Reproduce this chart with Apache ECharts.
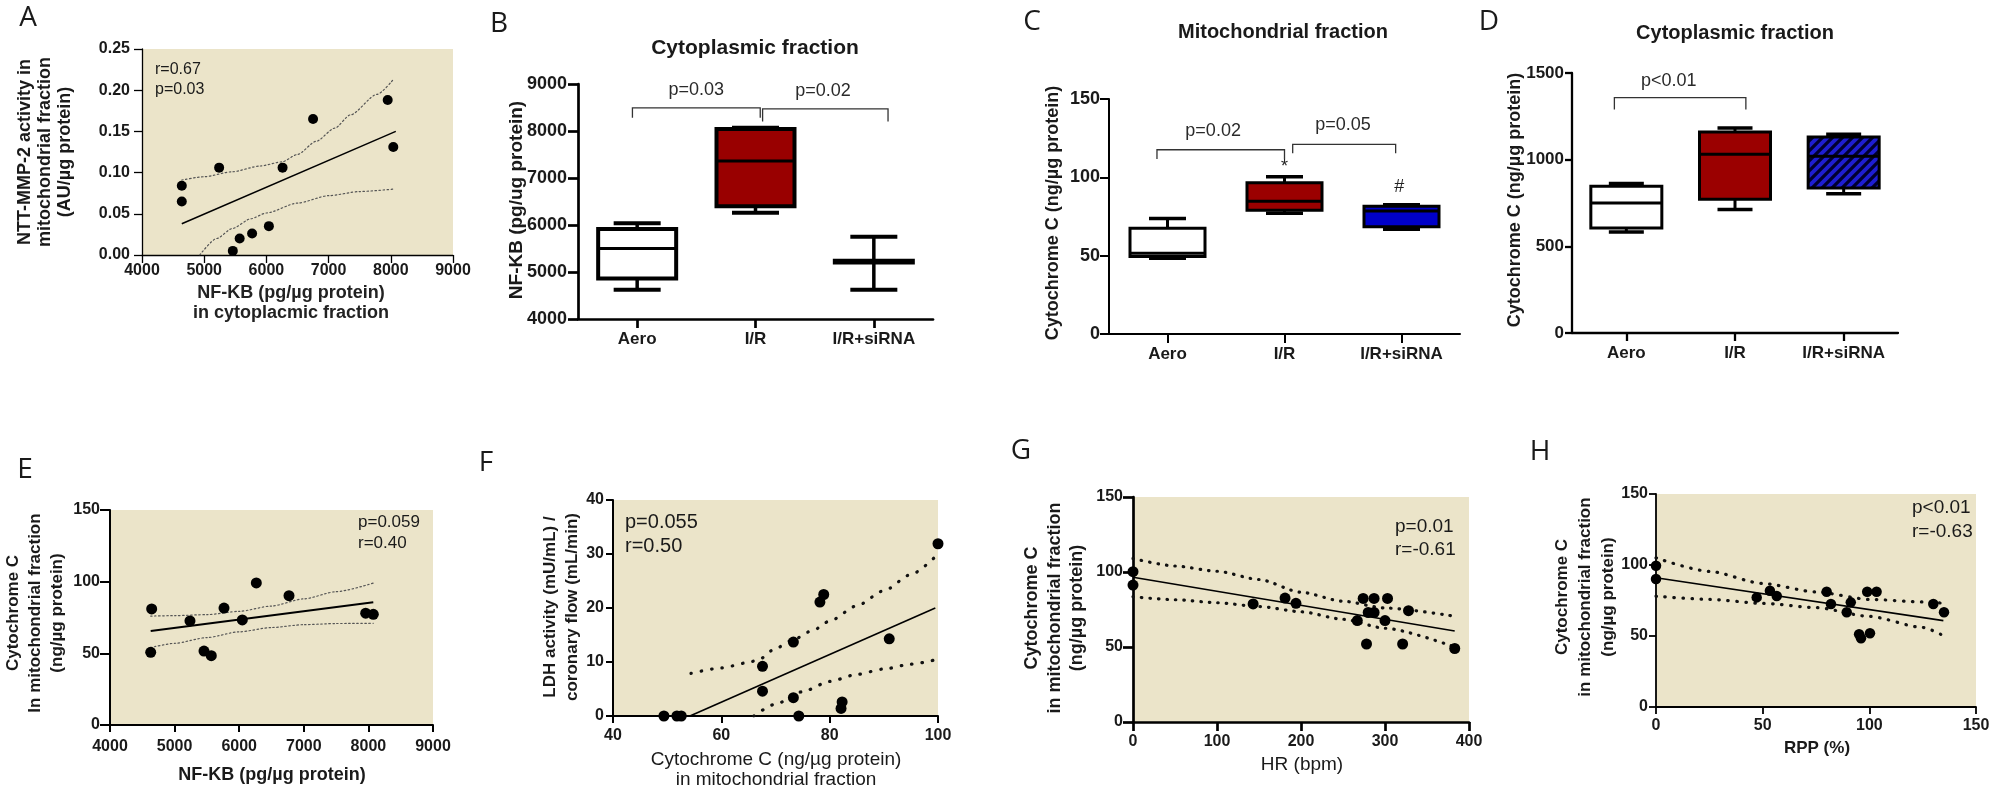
<!DOCTYPE html>
<html><head><meta charset="utf-8">
<script src="https://cdn.jsdelivr.net/npm/echarts@6/dist/echarts.min.js"></script>
<style>html,body{margin:0;padding:0;background:#fff}#c{width:2007px;height:791px}</style>
</head><body><div id="c"></div>
<script>
// ---------- DATA ----------
// Panel A
const aX = [4640, 4640, 5240, 5460, 5570, 5770, 6040, 6260, 6750, 7950, 8040];
const aY = [0.084, 0.065, 0.106, 0.005, 0.020, 0.026, 0.035, 0.106, 0.165, 0.188, 0.131];
const aFitX = [4640, 8080];
const aFitY = [0.038, 0.150];
const aUpX = [4640, 5000, 5450, 5900, 6250, 6500, 6800, 7100, 7350, 7780, 8040];
const aUpY = [0.091, 0.095, 0.101, 0.108, 0.113, 0.122, 0.138, 0.154, 0.170, 0.195, 0.213];
const aLoX = [4930, 5200, 5450, 5750, 6000, 6500, 7000, 7500, 8040];
const aLoY = [0, 0.020, 0.032, 0.044, 0.051, 0.063, 0.072, 0.077, 0.080];
// Panel B
const boxCats = ['Aero', 'I/R', 'I/R+siRNA'];
const bAero = [4620, 4860, 5500, 5915, 6035];
const bIR = [6260, 6400, 7360, 8040, 8070];
const bSi = [4620, 5200, 5220, 5240, 5750];
const bBrackets = [[-0.04, 1.04, 8490, 8280, 0.5], [1.06, 2.12, 8470, 8200, 1.57]];
const bBracketText = ['p=0.03', 'p=0.02'];
// Panel C
const cAero = [48.3, 49.5, 51.5, 67.5, 73.8];
const cIR = [77, 79, 84.7, 96.6, 100.4];
const cSi = [66.8, 68.5, 78.5, 81.5, 82.5];
const cBrackets = [[-0.09, 1.0, 117.6, 111.7, 0.39], [1.07, 1.95, 121.1, 115.3, 1.5]];
const cBracketText = ['p=0.02', 'p=0.05'];
const cMarks = [[1.0, 106.5], [1.98, 93.5]];
const cMarkText = ['*', '#'];
// Panel D
const dAero = [583, 606, 750, 846, 862];
const dIR = [712, 771, 1031, 1160, 1183];
const dSi = [804, 837, 1020, 1131, 1147];
const dBrackets = [[-0.11, 1.10, 1358, 1289, 0.39]];
const dBracketText = ['p<0.01'];
// Panel E
const eX = [4630, 4645, 5238, 5455, 5568, 5765, 6048, 6265, 6771, 7958, 8076];
const eY = [50.7, 81, 72.6, 51.6, 48.4, 81.6, 73.3, 99.1, 90.2, 78, 77.2];
const eFitX = [4630, 8076];
const eFitY = [65.6, 85.6];
const eUpX = [4630, 5000, 5500, 6000, 6500, 7000, 7500, 8076];
const eUpY = [76, 76.3, 77, 79.3, 83, 88, 93, 99];
const eLoX = [4630, 5000, 5500, 6000, 6500, 7000, 7500, 8076];
const eLoY = [54, 57, 61, 65, 68, 70, 70.8, 71];
// Panel F
const fX = [49.4, 51.8, 52.6, 67.6, 67.6, 73.3, 73.3, 74.3, 78.2, 78.9, 82.1, 82.3, 91.0, 100];
const fY = [0, 0, 0, 9.2, 4.6, 13.7, 3.4, 0, 21.1, 22.5, 1.4, 2.6, 14.3, 31.9];
const fFitX = [54.2, 99.5];
const fFitY = [0, 20];
const fUpX = [54.4, 60, 65, 67, 70, 73, 77, 80, 85, 90, 95, 99.5];
const fUpY = [7.9, 8.9, 9.9, 10.5, 12.5, 14, 15.9, 17.6, 20.4, 23.2, 26.2, 29.5];
const fLoX = [66, 70, 75, 80, 85, 90, 95, 99.5];
const fLoY = [0, 2.2, 4.5, 6.4, 7.7, 8.7, 9.6, 10.4];
// Panel G
const gX = [0, 0, 143, 181, 194, 267, 274, 287, 303, 280, 287, 300, 328, 278, 321, 383];
const gY = [100.2, 91.3, 78.7, 82.6, 79.1, 67.6, 82.4, 82.4, 82.4, 73, 73, 67.6, 74.2, 52, 52, 49];
const gFitX = [0, 383];
const gFitY = [96.5, 60.7];
const gUpX = [0, 50, 100, 150, 200, 250, 300, 383];
const gUpY = [109, 104, 100.5, 95, 86.5, 80.5, 76, 70.5];
const gLoX = [0, 50, 100, 150, 200, 250, 300, 383];
const gLoY = [83.5, 81.5, 79.5, 77, 73.5, 68.5, 62.5, 50];
// Panel H
const hX = [0, 0, 47.2, 53.4, 56.6, 80, 82, 89.4, 91.3, 95.2, 96.1, 100.3, 99, 103.4, 130, 135];
const hY = [99.5, 90.1, 77.2, 81.9, 78.2, 81.2, 72.5, 66.7, 73.7, 51.2, 48.4, 51.9, 81.2, 81.2, 72.5, 66.7];
const hFitX = [0, 134.7];
const hFitY = [91, 60.8];
const hUpX = [0, 25, 50, 75, 100, 125, 135];
const hUpY = [105, 95.5, 87, 81, 75.8, 74, 73];
const hLoX = [0, 25, 50, 75, 100, 125, 135];
const hLoY = [78, 75.8, 73, 70, 63.8, 56, 50];

// ---------- STYLE ----------
const FONT = '"Liberation Sans", Arial, sans-serif';
const BEIGE = '#ebe4c9';
const zip = (xs, ys) => xs.map((x, i) => [x, ys[i]]);

function hatchCanvas() {
  const c = document.createElement('canvas');
  c.width = 10; c.height = 10;
  const g = c.getContext('2d');
  g.fillStyle = '#1e1ed2'; g.fillRect(0, 0, 10, 10);
  g.strokeStyle = '#000030'; g.lineWidth = 3.2;
  g.beginPath();
  g.moveTo(-5, 5); g.lineTo(5, -5);
  g.moveTo(0, 10); g.lineTo(10, 0);
  g.moveTo(5, 15); g.lineTo(15, 5);
  g.stroke();
  return c;
}
const HATCH = { image: hatchCanvas(), repeat: 'repeat' };

function valAxis(gi, min, max, interval, o) {
  return {
    type: 'value', gridIndex: gi, min: min, max: max, interval: interval,
    splitLine: { show: false },
    axisLine: { show: true, onZero: false, lineStyle: { color: '#000', width: o.lw } },
    axisTick: { show: true, inside: false, length: o.tl, lineStyle: { color: '#000', width: o.lw } },
    axisLabel: { show: true, margin: o.m, fontSize: o.fs, fontWeight: 'bold', color: '#1a1a1a', fontFamily: FONT,
      formatter: o.fmt || (v => String(v)) }
  };
}
function boxXAxis(gi, o) {
  return {
    type: 'value', gridIndex: gi, min: -0.5, max: 2.5,
    splitLine: { show: false },
    axisLine: { show: true, onZero: false, lineStyle: { color: '#000', width: o.lw } },
    axisTick: { show: true, customValues: [0, 1, 2], length: o.tl, lineStyle: { color: '#000', width: o.lw } },
    axisLabel: { show: true, customValues: [0, 1, 2], margin: o.m, fontSize: o.fs, fontWeight: 'bold', color: '#1a1a1a',
      fontFamily: FONT, formatter: v => boxCats[Math.round(v)] }
  };
}

function boxSeries(gi, boxes, st) {
  return {
    type: 'custom', xAxisIndex: gi, yAxisIndex: gi, silent: true, z: 3,
    encode: { x: 0, y: [1, 2, 3, 4, 5] },
    data: boxes.map((b, i) => [i].concat(b)),
    renderItem: function (params, api) {
      const x = api.value(0);
      const pMin = api.coord([x, api.value(1)]);
      const pQ1 = api.coord([x, api.value(2)]);
      const pMed = api.coord([x, api.value(3)]);
      const pQ3 = api.coord([x, api.value(4)]);
      const pMax = api.coord([x, api.value(5)]);
      const cx = pMin[0], hw = st.boxW / 2, cw = st.capW / 2;
      const ls = { stroke: '#000', lineWidth: st.wl };
      return {
        type: 'group', children: [
          { type: 'line', shape: { x1: cx, y1: pMax[1], x2: cx, y2: pQ3[1] }, style: ls },
          { type: 'line', shape: { x1: cx, y1: pQ1[1], x2: cx, y2: pMin[1] }, style: ls },
          { type: 'line', shape: { x1: cx - cw, y1: pMax[1], x2: cx + cw, y2: pMax[1] }, style: { stroke: '#000', lineWidth: st.cl } },
          { type: 'line', shape: { x1: cx - cw, y1: pMin[1], x2: cx + cw, y2: pMin[1] }, style: { stroke: '#000', lineWidth: st.cl } },
          { type: 'rect', shape: { x: cx - hw, y: pQ3[1], width: 2 * hw, height: Math.max(pQ1[1] - pQ3[1], 0.5) },
            style: { fill: st.fills[params.dataIndex], stroke: '#000', lineWidth: st.bl } },
          { type: 'line', shape: { x1: cx - hw, y1: pMed[1], x2: cx + hw, y2: pMed[1] }, style: { stroke: '#000', lineWidth: st.ml } }
        ]
      };
    }
  };
}
function bracketSeries(gi, brackets, texts, st) {
  return {
    type: 'custom', xAxisIndex: gi, yAxisIndex: gi, silent: true, z: 4,
    encode: { x: [0, 1, 4], y: [2, 3] },
    data: brackets,
    renderItem: function (params, api) {
      const x1 = api.value(0), x2 = api.value(1), yt = api.value(2), ye = api.value(3), tx = api.value(4);
      const p1 = api.coord([x1, ye]), p2 = api.coord([x1, yt]), p3 = api.coord([x2, yt]), p4 = api.coord([x2, ye]);
      const pt = api.coord([tx, yt]);
      return {
        type: 'group', children: [
          { type: 'polyline', shape: { points: [p1, p2, p3, p4] }, style: { stroke: '#333', lineWidth: 1.3, fill: null } },
          { type: 'text', x: pt[0], y: pt[1] - st.off,
            style: { text: texts[params.dataIndex], fill: '#2a2a2a', font: '18px ' + FONT, align: 'center', verticalAlign: 'middle' } }
        ]
      };
    }
  };
}
function markSeries(gi, marks, texts) {
  return {
    type: 'custom', xAxisIndex: gi, yAxisIndex: gi, silent: true, z: 4,
    encode: { x: 0, y: 1 }, data: marks,
    renderItem: function (params, api) {
      const p = api.coord([api.value(0), api.value(1)]);
      return { type: 'text', x: p[0], y: p[1],
        style: { text: texts[params.dataIndex], fill: '#222', font: '18px ' + FONT, align: 'center', verticalAlign: 'middle' } };
    }
  };
}
function scatterSet(gi, xs, ys, fx, fy, ux, uy, lx, ly, st) {
  const dotted = { type: st.dash, width: st.dw, color: st.dc, cap: 'round' };
  return [
    { type: 'line', xAxisIndex: gi, yAxisIndex: gi, data: zip(ux, uy), showSymbol: false, silent: true, smooth: 0.25, smoothMonotone: 'x', lineStyle: dotted, z: 2 },
    { type: 'line', xAxisIndex: gi, yAxisIndex: gi, data: zip(lx, ly), showSymbol: false, silent: true, smooth: 0.25, smoothMonotone: 'x', lineStyle: dotted, z: 2 },
    { type: 'line', xAxisIndex: gi, yAxisIndex: gi, data: zip(fx, fy), showSymbol: false, silent: true, lineStyle: { color: '#000', width: st.fw }, z: 3 },
    { type: 'scatter', xAxisIndex: gi, yAxisIndex: gi, data: zip(xs, ys), symbolSize: st.ss, silent: true, itemStyle: { color: '#000', opacity: 1 }, z: 5 }
  ];
}

const fine = { dash: [1.5, 2.5], dw: 1.2, dc: '#555', fw: 1.5, ss: 10 };
const heavy = { dash: [0.5, 8], dw: 3.2, dc: '#111', fw: 1.6, ss: 11 };

const scatterGrid = { show: true, backgroundColor: BEIGE, borderWidth: 0, borderColor: 'transparent', outerBoundsMode: 'none' };
const plainGrid = { show: false, outerBoundsMode: 'none' };

function txt(x, y, text, font, extra) {
  return Object.assign({ type: 'text', x: x, y: y, silent: true,
    style: Object.assign({ text: text, font: font, fill: '#1a1a1a', align: 'center', verticalAlign: 'middle' }, (extra && extra.style) || {}) },
    extra && extra.rot ? { rotation: Math.PI / 2 } : {});
}
const LETTER = '28px "Open Sans", sans-serif';

const option = {
  animation: false,
  backgroundColor: '#fff',
  grid: [
    Object.assign({ left: 142, top: 49, width: 311, height: 206 }, scatterGrid),
    Object.assign({ left: 578, top: 84, width: 355, height: 235 }, plainGrid),
    Object.assign({ left: 1109, top: 99, width: 351, height: 235 }, plainGrid),
    Object.assign({ left: 1572, top: 73, width: 326, height: 260 }, plainGrid),
    Object.assign({ left: 110, top: 510, width: 323, height: 215 }, scatterGrid),
    Object.assign({ left: 613, top: 500, width: 325, height: 216 }, scatterGrid),
    Object.assign({ left: 1133, top: 497, width: 336, height: 225 }, scatterGrid),
    Object.assign({ left: 1656, top: 494, width: 320, height: 213 }, scatterGrid)
  ],
  xAxis: [
    valAxis(0, 4000, 9000, 1000, { lw: 1.3, tl: 8, m: 8, fs: 16 }),
    boxXAxis(1, { lw: 2.7, tl: 9, m: 12, fs: 17 }),
    boxXAxis(2, { lw: 2, tl: 9, m: 12, fs: 17 }),
    boxXAxis(3, { lw: 2.3, tl: 8, m: 12, fs: 17 }),
    valAxis(4, 4000, 9000, 1000, { lw: 2, tl: 7, m: 14, fs: 16 }),
    valAxis(5, 40, 100, 20, { lw: 2, tl: 7, m: 12, fs: 16 }),
    valAxis(6, 0, 400, 100, { lw: 2.7, tl: 9, m: 12, fs: 16 }),
    valAxis(7, 0, 150, 50, { lw: 1.8, tl: 7, m: 11, fs: 16 })
  ],
  yAxis: [
    valAxis(0, 0, 0.25, 0.05, { lw: 1.3, tl: 8, m: 12, fs: 16, fmt: v => v.toFixed(2) }),
    valAxis(1, 4000, 9000, 1000, { lw: 2.7, tl: 10, m: 11, fs: 18 }),
    valAxis(2, 0, 150, 50, { lw: 2, tl: 9, m: 9, fs: 18 }),
    valAxis(3, 0, 1500, 500, { lw: 2.3, tl: 7, m: 8, fs: 17 }),
    valAxis(4, 0, 150, 50, { lw: 2, tl: 10, m: 10, fs: 16 }),
    valAxis(5, 0, 40, 10, { lw: 2, tl: 7, m: 9, fs: 16 }),
    valAxis(6, 0, 150, 50, { lw: 2.7, tl: 10, m: 10, fs: 16 }),
    valAxis(7, 0, 150, 50, { lw: 1.8, tl: 7, m: 8, fs: 16 })
  ],
  series: [].concat(
    scatterSet(0, aX, aY, aFitX, aFitY, aUpX, aUpY, aLoX, aLoY, fine),
    [boxSeries(1, [bAero, bIR, bSi], { boxW: 78, capW: 47, bl: 4, wl: 3.5, cl: 4, ml: 3, fills: ['#fff', '#990000', '#000'] }),
     bracketSeries(1, bBrackets, bBracketText, { off: 18 }),
     boxSeries(2, [cAero, cIR, cSi], { boxW: 75, capW: 37, bl: 3, wl: 3, cl: 3.5, ml: 3, fills: ['#fff', '#9b0000', '#0000c8'] }),
     bracketSeries(2, cBrackets, cBracketText, { off: 19 }),
     markSeries(2, cMarks, cMarkText),
     boxSeries(3, [dAero, dIR, dSi], { boxW: 71, capW: 35, bl: 3, wl: 3, cl: 3.5, ml: 3, fills: ['#fff', '#9b0000', HATCH] }),
     bracketSeries(3, dBrackets, dBracketText, { off: 17 })],
    scatterSet(4, eX, eY, eFitX, eFitY, eUpX, eUpY, eLoX, eLoY, Object.assign({}, fine, { fw: 2, ss: 11 })),
    scatterSet(5, fX, fY, fFitX, fFitY, fUpX, fUpY, fLoX, fLoY, Object.assign({}, heavy, { dash: [0.5, 10] })),
    scatterSet(6, gX, gY, gFitX, gFitY, gUpX, gUpY, gLoX, gLoY, heavy),
    scatterSet(7, hX, hY, hFitX, hFitY, hUpX, hUpY, hLoX, hLoY, Object.assign({}, heavy, { dash: [0.5, 8.5], ss: 10.5 }))
  ),
  graphic: [
    // panel letters
    txt(28, 18, 'A', LETTER), txt(499, 24, 'B', LETTER), txt(1032, 22, 'C', LETTER), txt(1489, 22, 'D', LETTER),
    txt(25, 470, 'E', LETTER), txt(486, 463, 'F', LETTER), txt(1021, 451, 'G', LETTER), txt(1540, 452, 'H', LETTER),
    // titles
    txt(755, 48, 'Cytoplasmic fraction', 'bold 21px ' + FONT),
    txt(1283, 32, 'Mitochondrial fraction', 'bold 20px ' + FONT),
    txt(1735, 33, 'Cytoplasmic fraction', 'bold 20px ' + FONT),
    // A
    txt(45, 152, 'NTT-MMP-2 activity in\nmitochondrial fraction\n(AU/µg protein)', 'bold 18px ' + FONT, { rot: true, style: { lineHeight: 20 } }),
    txt(291, 303, 'NF-KB (pg/µg protein)\nin cytoplacmic fraction', 'bold 18px ' + FONT, { style: { lineHeight: 20, fill: '#222' } }),
    txt(155, 70, 'r=0.67', '16px ' + FONT, { style: { align: 'left' } }),
    txt(155, 90, 'p=0.03', '16px ' + FONT, { style: { align: 'left' } }),
    // B, C, D y titles
    txt(517, 200, 'NF-KB (pg/ug protein)', 'bold 19px ' + FONT, { rot: true }),
    txt(1053, 213, 'Cytochrome C (ng/µg protein)', 'bold 18px ' + FONT, { rot: true }),
    txt(1515, 200, 'Cytochrome C (ng/µg protein)', 'bold 18px ' + FONT, { rot: true }),
    // E
    txt(35, 613, 'Cytochrome C\nIn mitochondrial fraction\n(ng/µg protein)', 'bold 17px ' + FONT, { rot: true, style: { lineHeight: 22 } }),
    txt(272, 775, 'NF-KB (pg/µg protein)', 'bold 18px ' + FONT),
    txt(358, 522, 'p=0.059', '17px ' + FONT, { style: { align: 'left' } }),
    txt(358, 543, 'r=0.40', '17px ' + FONT, { style: { align: 'left' } }),
    // F
    txt(561, 607, 'LDH activity (mU/mL) /\ncoronary flow (mL/min)', 'bold 17px ' + FONT, { rot: true, style: { lineHeight: 22 } }),
    txt(776, 770, 'Cytochrome C (ng/µg protein)\nin mitochondrial fraction', '19px ' + FONT, { style: { lineHeight: 20 } }),
    txt(625, 522, 'p=0.055', '20px ' + FONT, { style: { align: 'left' } }),
    txt(625, 546, 'r=0.50', '20px ' + FONT, { style: { align: 'left' } }),
    // G
    txt(1055, 608, 'Cytochrome C\nin mitochondrial fraction\n(ng/µg protein)', 'bold 18px ' + FONT, { rot: true, style: { lineHeight: 22.5 } }),
    txt(1302, 765, 'HR (bpm)', '19px ' + FONT),
    txt(1395, 527, 'p=0.01', '19px ' + FONT, { style: { align: 'left' } }),
    txt(1395, 550, 'r=-0.61', '19px ' + FONT, { style: { align: 'left' } }),
    // H
    txt(1585, 597, 'Cytochrome C\nin mitochondrial fraction\n(ng/µg protein)', 'bold 17px ' + FONT, { rot: true, style: { lineHeight: 23 } }),
    txt(1817, 748, 'RPP (%)', 'bold 17px ' + FONT),
    txt(1912, 508, 'p<0.01', '19px ' + FONT, { style: { align: 'left' } }),
    txt(1912, 532, 'r=-0.63', '19px ' + FONT, { style: { align: 'left' } })
  ]
};
const chart = echarts.init(document.getElementById('c'), null, { renderer: 'canvas' });
chart.setOption(option);
</script></body></html>
